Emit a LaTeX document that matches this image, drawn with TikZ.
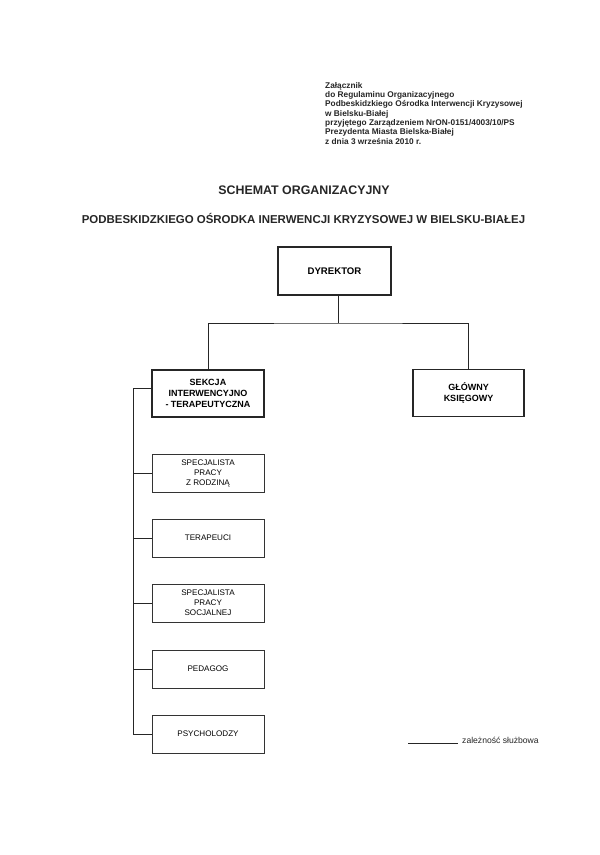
\documentclass[tikz,border=0pt]{standalone}
\usepackage{fontspec}
\setmainfont{Liberation Sans}
\begin{document}
\begin{tikzpicture}[x=1pt,y=-1pt,
  thickbox/.style={draw=black!85,line width=1.9pt,minimum width=112pt,minimum height=47pt,inner sep=0pt,align=center,font=\fontsize{9}{11}\selectfont\bfseries},
  thinbox/.style={draw=black!80,line width=0.9pt,minimum width=112pt,minimum height=38pt,inner sep=0pt,align=center,font=\fontsize{8.1}{10}\selectfont},
  conn/.style={draw=black!85,line width=0.9pt}]
\useasboundingbox (0,0) rectangle (600,855);
\fill[white] (0,0) rectangle (600,855);
% header
\node[anchor=north west,inner sep=0pt,align=left,font=\fontsize{8.3}{9.3}\selectfont\bfseries,text=black!85] (hdr) at (325,82)
 {Załącznik\\do Regulaminu Organizacyjnego\\Podbeskidzkiego Ośrodka Interwencji Kryzysowej\\w Bielsku-Białej\\przyjętego Zarządzeniem NrON-0151/4003/10/PS\\Prezydenta Miasta Bielska-Białej\\z dnia 3 września 2010 r.};
% titles
\node[inner sep=0pt,font=\fontsize{12.4}{14}\selectfont\bfseries,text=black!85] (t1) at (304,190) {SCHEMAT ORGANIZACYJNY};
\node[inner sep=0pt,font=\fontsize{11.45}{14}\selectfont\bfseries,text=black!85] (t2) at (303.5,218) {PODBESKIDZKIEGO OŚRODKA INERWENCJI KRYZYSOWEJ W BIELSKU-BIAŁEJ};
% boxes
\node[thickbox,minimum width=113pt,minimum height=48pt,font=\fontsize{9.6}{11}\selectfont\bfseries] (dyr) at (334.5,271) {DYREKTOR};
\node[thickbox] (sek) at (208,393.5) {SEKCJA\\INTERWENCYJNO\\- TERAPEUTYCZNA};
\node[thickbox,minimum width=111pt] (glo) at (468.5,393) {GŁÓWNY\\KSIĘGOWY};
\node[thinbox] (b1) at (208,473) {SPECJALISTA\\PRACY\\Z RODZINĄ};
\node[thinbox] (b2) at (208,538) {TERAPEUCI};
\node[thinbox] (b3) at (208,603) {SPECJALISTA\\PRACY\\SOCJALNEJ};
\node[thinbox] (b4) at (208,669) {PEDAGOG};
\node[thinbox] (b5) at (208,734) {PSYCHOLODZY};
% connectors
\coordinate (bar) at (338,323);
\draw[conn] (dyr.south -| bar) -- (bar);
\draw[conn] (sek.north) |- (bar) -| (glo.north);
\coordinate (sp0) at (133,388);
\coordinate (sp5) at (133,734);
\draw[conn] (sek.west |- sp0) -- (sp0) -- (sp5) -- (b5.west);
\foreach \b in {b1,b2,b3,b4}{\draw[conn] (sp0 |- \b.west) -- (\b.west);}
% legend
\coordinate (lg1) at (408,743);
\coordinate (lg2) at (458,743);
\draw[conn] (lg1) -- (lg2);
\node[anchor=west,inner sep=0pt,font=\fontsize{8.6}{10}\selectfont,text=black!85] (lgt) at (462,740) {zależność służbowa};
\end{tikzpicture}
\end{document}
